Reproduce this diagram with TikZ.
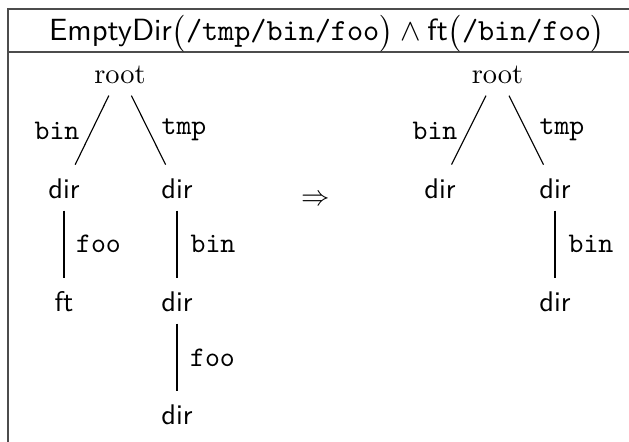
\documentclass[tikz,border=0pt]{standalone}
\begin{document}
\begin{tikzpicture}[x=0.352pt,y=-0.352pt,
  frame/.style={draw=black!70,line width=0.7pt},
  tnode/.style={inner xsep=2pt,inner ysep=0pt,text height=11.9pt,text depth=3.9pt,anchor=base,font=\sffamily},
  rnode/.style={tnode,font=\rmfamily},
  elabel/.style={inner sep=0pt,anchor=base,font=\ttfamily},
  edge/.style={draw=black,line width=0.4pt}]
\useasboundingbox (0,0) rectangle (629,442);
% frame
\coordinate (tl) at (8,9);
\coordinate (tr) at (629,9);
\coordinate (ml) at (8,52.5);
\coordinate (mr) at (629,52.5);
\coordinate (bl) at (8,442);
\draw[frame] (tr) -- (tl) -- (bl);
\draw[frame] (ml) -- (mr);
\node[inner sep=0pt,anchor=base] (title) at (327,41)
  {\scalebox{1.08}{$\textsf{EmptyDir}\big(\texttt{/tmp/bin/foo}\big)\wedge\textsf{ft}\big(\texttt{/bin/foo}\big)$}};
% left tree
\node[rnode] (r1) at (120,84) {root};
\node[tnode] (a1) at (64,199) {dir};
\node[tnode] (b1) at (177,199) {dir};
\node[tnode] (c1) at (64,312) {ft};
\node[tnode] (d1) at (177,312) {dir};
\node[tnode] (e1) at (177,425) {dir};
\draw[edge] (r1) -- (a1);
\draw[edge] (r1) -- (b1);
\draw[edge] (a1) -- (c1);
\draw[edge] (b1) -- (d1);
\draw[edge] (d1) -- (e1);
\node[elabel] (l1) at (57,140) {bin};
\node[elabel] (l2) at (184,135) {tmp};
\node[elabel] (l3) at (98.5,253) {foo};
\node[elabel] (l4) at (213,253) {bin};
\node[elabel] (l5) at (212.5,367) {foo};
% arrow
\node[inner sep=0pt] (imp) at (316,200) {$\Rightarrow$};
% right tree
\node[rnode] (r2) at (497.5,84) {root};
\node[tnode] (a2) at (440,199) {dir};
\node[tnode] (b2) at (555,199) {dir};
\node[tnode] (d2) at (555,312) {dir};
\draw[edge] (r2) -- (a2);
\draw[edge] (r2) -- (b2);
\draw[edge] (b2) -- (d2);
\node[elabel] (m1) at (435,140) {bin};
\node[elabel] (m2) at (562,135) {tmp};
\node[elabel] (m3) at (591,253) {bin};
\end{tikzpicture}
\end{document}
